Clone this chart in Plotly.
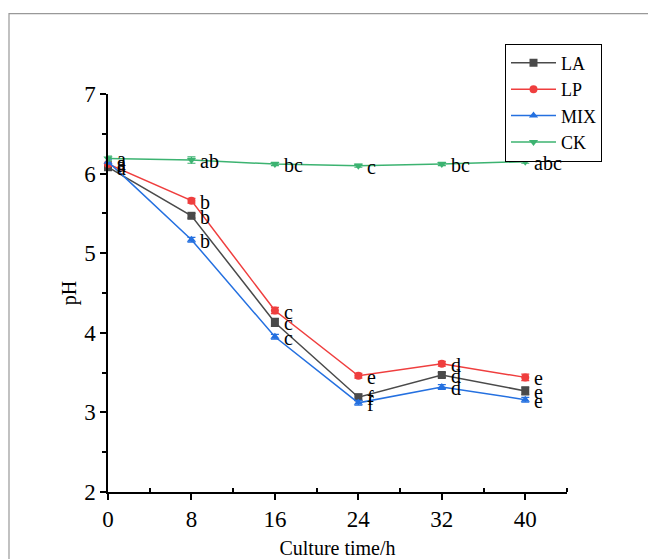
import plotly.graph_objects as go

time_h = [0, 8, 16, 24, 32, 40]
LA = [6.08, 5.47, 4.13, 3.19, 3.47, 3.27]
LP = [6.12, 5.66, 4.28, 3.46, 3.61, 3.44]
MIX = [6.15, 5.17, 3.95, 3.12, 3.32, 3.16]
CK = [6.19, 6.17, 6.12, 6.10, 6.12, 6.15]
LA_err = [0.03, 0.03, 0.05, 0.04, 0.03, 0.05]
LP_err = [0.03, 0.03, 0.04, 0.03, 0.03, 0.04]
MIX_err = [0.03, 0.03, 0.03, 0.03, 0.03, 0.03]
CK_err = [0.03, 0.04, 0.02, 0.02, 0.02, 0.02]
LA_lbl = ["a", "b", "c", "f", "d", "e"]
LP_lbl = ["a", "b", "c", "e", "d", "e"]
MIX_lbl = ["a", "b", "c", "f", "d", "e"]
CK_lbl = ["a", "ab", "bc", "c", "bc", "abc"]

series = [
    ("LA", LA, LA_err, LA_lbl, "#4a4a4a", "square"),
    ("LP", LP, LP_err, LP_lbl, "#ef3e3e", "circle"),
    ("MIX", MIX, MIX_err, MIX_lbl, "#2470e0", "triangle-up"),
    ("CK", CK, CK_err, CK_lbl, "#3cb371", "triangle-down"),
]

FONT = "Times New Roman, Liberation Serif, serif"
fig = go.Figure()
annotations = []
for name, ys, err, lbl, col, sym in series:
    fig.add_trace(go.Scatter(
        x=time_h, y=ys, name=name, mode="lines+markers",
        line=dict(color=col, width=1.5),
        marker=dict(symbol=sym, size=8, color=col),
        error_y=dict(type="data", array=err, visible=True, color=col, thickness=1.2, width=4),
        cliponaxis=False,
    ))
    for xv, yv, t in zip(time_h, ys, lbl):
        annotations.append(dict(x=xv, y=yv, text=t, showarrow=False, xanchor="left",
                                yanchor="middle", xshift=7, yshift=-1,
                                font=dict(family=FONT, size=20, color="black")))

L, R, T, B = 108, 81, 93.5, 67.3
W = 648 - L - R
H = 559 - T - B
fig.update_layout(
    width=648, height=559,
    margin=dict(l=L, r=R, t=T, b=B, autoexpand=False),
    paper_bgcolor="white", plot_bgcolor="white",
    font=dict(family=FONT, color="black"),
    annotations=annotations,
    showlegend=True,
    legend=dict(x=(505 - L) / W, y=(559 - B - 43) / H, xanchor="left", yanchor="top",
                bordercolor="black", borderwidth=1, bgcolor="white",
                font=dict(family=FONT, size=18), itemwidth=45,
                tracegroupgap=0),
    shapes=[dict(type="rect", xref="paper", yref="paper",
                 x0=(9 - L) / W, x1=(660 - L) / W,
                 y0=(559 - B - 570) / H, y1=(559 - B - 13) / H,
                 line=dict(color="#999999", width=1.2), fillcolor="rgba(0,0,0,0)", layer="below")],
    xaxis=dict(range=[0, 44], tickvals=[0, 8, 16, 24, 32, 40], showline=True, linecolor="black",
               linewidth=1.5, ticks="outside", ticklen=6, tickwidth=1.5, tickcolor="black",
               showgrid=False, zeroline=False, tickfont=dict(family=FONT, size=23), automargin=False,
               minor=dict(tickvals=[4, 12, 20, 28, 36, 44], ticks="inside", ticklen=4, tickcolor="black", tickwidth=1.5),
               title=dict(text="Culture time/h", font=dict(family=FONT, size=20), standoff=22)),
    yaxis=dict(range=[2, 7], tickvals=[2, 3, 4, 5, 6, 7], showline=True, linecolor="black",
               linewidth=1.5, ticks="outside", ticklen=6, tickwidth=1.5, tickcolor="black",
               showgrid=False, zeroline=False, tickfont=dict(family=FONT, size=23), automargin=False,
               minor=dict(tickvals=[2.5, 3.5, 4.5, 5.5, 6.5], ticks="outside", ticklen=4, tickcolor="black", tickwidth=1.5),
               title=dict(text="pH", font=dict(family=FONT, size=20), standoff=2)),
)
fig.write_html("out.html")
